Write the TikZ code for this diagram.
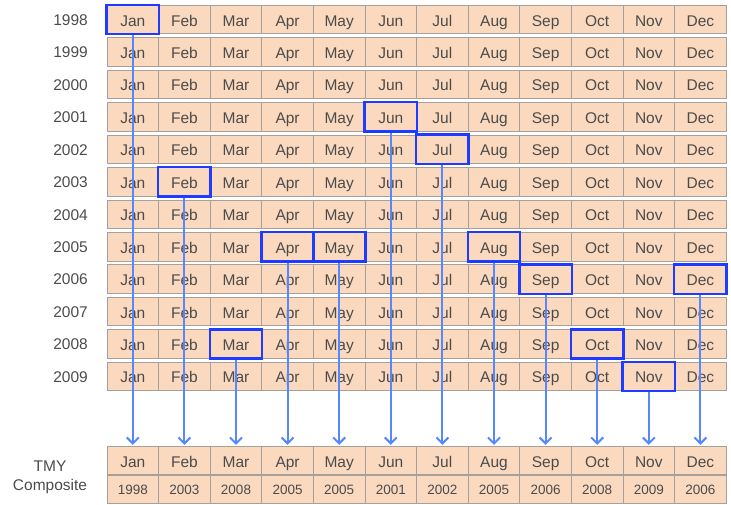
\documentclass[tikz,border=0pt]{standalone}
\usepackage{fontspec}
\setmainfont{Liberation Sans}
\usetikzlibrary{arrows.meta}
\definecolor{peach}{RGB}{251,217,190}
\definecolor{cellline}{RGB}{165,160,155}
\definecolor{txt}{RGB}{75,75,75}
\definecolor{hlblue}{RGB}{30,60,255}
\definecolor{arblue}{RGB}{85,135,255}
\begin{document}
\begin{tikzpicture}[x=1pt,y=-1pt,
  cell/.style={draw=cellline, line width=0.8pt, fill=peach, minimum width=51.6pt, minimum height=28.5pt, inner sep=0pt, text height=13pt, text depth=0pt, text=txt, font=\fontsize{15.5}{18}\selectfont},
  yearcell/.style={cell, minimum height=28pt, text height=11pt, text depth=0pt, font=\fontsize{13.5}{16}\selectfont},
  rowlabel/.style={anchor=east, inner sep=0pt, text=txt, font=\fontsize{15.5}{18}\selectfont},
  sidelabel/.style={align=center, inner sep=0pt, text=txt, font=\fontsize{15.5}{19}\selectfont},
  pick/.style={draw=hlblue, line width=2.4pt},
  pickarrow/.style={draw=arblue, line width=2pt, -{Straight Barb[length=6pt,width=12pt]}, shorten >=1pt}
]
\useasboundingbox (0,0) rectangle (731,504);
% grid
\foreach \r in {0,...,11}{
  \pgfmathtruncatemacro{\yr}{1998+\r}
  \node[rowlabel] (y\r) at (88, 20+32.45*\r) {\yr};
  \foreach \m [count=\c from 0] in {Jan,Feb,Mar,Apr,May,Jun,Jul,Aug,Sep,Oct,Nov,Dec}{
    \node[cell] (m\c-\r) at (132.8+51.6*\c, 19.5+32.45*\r) {\m};
  }
}
% composite rows
\node[sidelabel] (tmy) at (50, 477) {TMY\\Composite};
\foreach \m/\yy [count=\c from 0] in {Jan/1998,Feb/2003,Mar/2008,Apr/2005,May/2005,Jun/2001,Jul/2002,Aug/2005,Sep/2006,Oct/2008,Nov/2009,Dec/2006}{
  \node[cell] (t\c) at (132.8+51.6*\c, 460.5) {\m};
  \node[yearcell] (s\c) at (132.8+51.6*\c, 489) {\yy};
}
% arrows
\foreach \c/\r in {0/0,1/5,2/10,3/7,4/7,5/3,6/4,7/7,8/8,9/10,10/11,11/8}{
  \draw[pickarrow] (m\c-\r.south) -- (t\c.north);
}
% highlights
\foreach \c/\r in {0/0,1/5,2/10,3/7,4/7,5/3,6/4,7/7,8/8,9/10,10/11,11/8}{
  \draw[pick] (m\c-\r.north west) rectangle (m\c-\r.south east);
}
\end{tikzpicture}
\end{document}
